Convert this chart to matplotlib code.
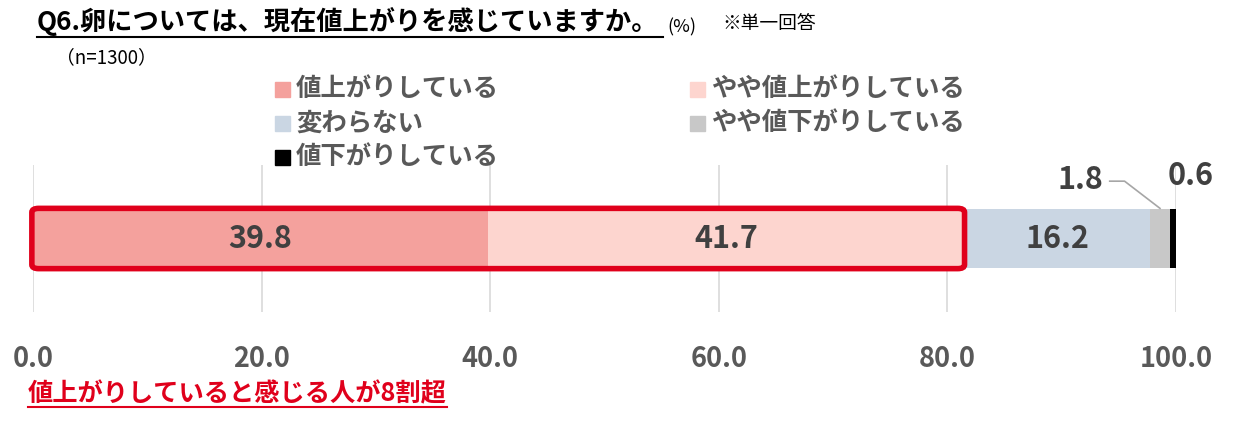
import numpy as np
import matplotlib
matplotlib.use("Agg")
from matplotlib import pyplot as plt
from matplotlib.patches import FancyBboxPatch

plt.rcParams['font.family'] = ['Noto Sans CJK JP', 'DejaVu Sans']

# Data
categories = ["値上がりしている", "やや値上がりしている", "変わらない",
              "やや値下がりしている", "値下がりしている"]
values = [39.8, 41.7, 16.2, 1.8, 0.6]
colors = ["#F4A19D", "#FDD5CF", "#CAD6E3", "#C8C8C8", "#000000"]
ticks = [0, 20, 40, 60, 80, 100]

W, H = 1256, 425


def fx(x):
    return x / W


def fy(y):
    return 1 - y / H


fig = plt.figure(figsize=(W / 100, H / 100), dpi=100)
ax = fig.add_axes([fx(33), fy(312), fx(1176) - fx(33), fy(165) - fy(312)])

# Stacked bar
left = 0
lefts = []
for v, c in zip(values, colors):
    ax.barh(0, v, left=left, height=0.80, color=c, zorder=2)
    lefts.append(left)
    left += v

# Value labels inside the three big segments
for i in range(3):
    ax.text(lefts[i] + values[i] / 2, 0, f"{values[i]:.1f}", ha="center",
            va="center", fontsize=22, fontweight="bold", color="#404040",
            zorder=4)

# Small segments: labels above, with a leader line for 1.8
ax.text(lefts[3] - 6.1, 0.80, f"{values[3]:.1f}", ha="center", va="center",
        fontsize=22, fontweight="bold", color="#404040", clip_on=False)
ax.plot([lefts[3] - 3.5, lefts[3] - 2.2, lefts[3] + values[3] / 2],
        [0.78, 0.78, 0.41], color="#A6A6A6", lw=1.2, clip_on=False, zorder=3)
ax.text(lefts[4] + values[4] / 2 + 1.5, 0.85, f"{values[4]:.1f}",
        ha="center", va="center", fontsize=22, fontweight="bold",
        color="#404040", clip_on=False)

# Highlight frame around the rising answers
rise = values[0] + values[1]
frame = FancyBboxPatch((-0.1, -0.41), rise + 0.1, 0.82,
                       boxstyle="round,pad=0,rounding_size=0.6",
                       fill=False, edgecolor="#E0001B", lw=4.0, zorder=5,
                       clip_on=False, mutation_aspect=0.09)
ax.add_patch(frame)

ax.set_xlim(0, 100)
ax.set_ylim(-1, 1)
ax.set_xticks(ticks)
ax.set_xticklabels([f"{t:.1f}" for t in ticks], fontsize=19.5,
                   fontweight="bold", color="#595959")
ax.set_yticks([])
ax.tick_params(axis="x", length=0, pad=24)
ax.grid(axis="x", color="#D9D9D9", lw=1.2, zorder=0)
for s in ax.spines.values():
    s.set_visible(False)

# Legend (manual)
leg_pos = [(275, 89), (690, 89), (275, 123), (690, 123), (275, 157)]
for (x, y), lab, c in zip(leg_pos, categories, colors):
    fig.patches.append(plt.Rectangle((fx(x), fy(y + 8)), fx(15), 15 / H,
                                     transform=fig.transFigure, color=c))
    fig.text(fx(x + 21), fy(y), lab, fontsize=18.3, fontweight="bold",
             color="#595959", ha="left", va="center")

# Titles
fig.text(fx(37), fy(22), "Q6.卵については、現在値上がりを感じていますか。",
         fontsize=18.9, fontweight="bold", color="#000000", ha="left",
         va="center")
fig.add_artist(plt.Line2D([fx(37), fx(663)], [fy(37), fy(37)], color="black",
                          lw=1.5))
fig.text(fx(667), fy(27), "(%)", fontsize=13, color="#000000", ha="left",
         va="center")
fig.text(fx(722), fy(24), "※単一回答", fontsize=13.5, color="#000000",
         ha="left", va="center")
fig.text(fx(56), fy(58), "（n=1300）", fontsize=13.5, color="#000000",
         ha="left", va="center")

fig.text(fx(28), fy(394), "値上がりしていると感じる人が8割超", fontsize=18.2,
         fontweight="bold", color="#E0001B", ha="left", va="center")
fig.add_artist(plt.Line2D([fx(28), fx(447)], [fy(407), fy(407)],
                          color="#E0001B", lw=1.5))

fig.savefig("out.png", dpi=100)
